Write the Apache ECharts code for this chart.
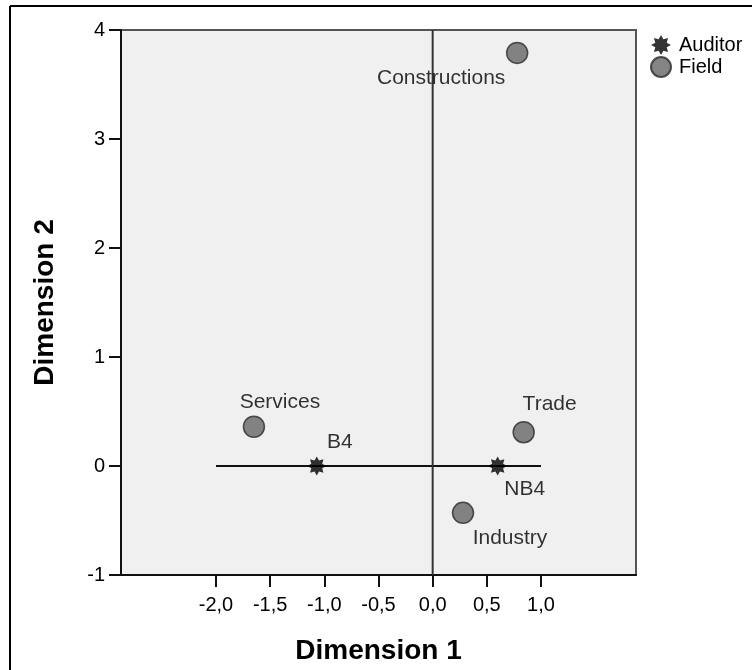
<!DOCTYPE html>
<html>
<head>
<meta charset="utf-8">
<title>Joint plot of category points</title>
<script src="https://cdn.jsdelivr.net/npm/echarts@6/dist/echarts.min.js"></script>
<style>
  html, body { margin: 0; padding: 0; background: #ffffff; }
  #chart { width: 752px; height: 670px; }
</style>
</head>
<body>
<div id="chart"></div>
<script>
// Category points: Field
const fieldNames = ['Constructions', 'Services', 'Trade', 'Industry'];
const fieldDim1 = [0.78, -1.65, 0.84, 0.28];
const fieldDim2 = [3.79, 0.36, 0.31, -0.43];

// Category points: Auditor
const auditorNames = ['B4', 'NB4'];
const auditorDim1 = [-1.07, 0.60];
const auditorDim2 = [0, 0];

// Tick values
const dim1Ticks = [-2, -1.5, -1, -0.5, 0, 0.5, 1];
const dim2Ticks = [-1, 0, 1, 2, 3, 4];

// Where each point label sits relative to its marker (pixels)
const labelOffsets = {
  'Constructions': [-76, 25],
  'Services': [26, -25],
  'Trade': [26, -28],
  'Industry': [47, 25],
  'B4': [23, -24],
  'NB4': [27, 23]
};

// Eight-pointed star marker
function starPath(points, inner) {
  const parts = [];
  for (let i = 0; i < points * 2; i++) {
    const r = i % 2 === 0 ? 50 : 50 * inner;
    const a = Math.PI * i / points - Math.PI / 2;
    const x = (50 + r * Math.cos(a)).toFixed(2);
    const y = (50 + r * Math.sin(a)).toFixed(2);
    parts.push((i === 0 ? 'M' : 'L') + x + ',' + y);
  }
  return 'path://' + parts.join(' ') + 'Z';
}
const STAR = starPath(8, 0.62);

const FONT = 'Liberation Sans, Arial, sans-serif';
const fmtComma = v => v.toFixed(1).replace('.', ',');

function pointData(names, xs, ys) {
  return names.map((n, i) => ({
    name: n,
    value: [xs[i], ys[i]],
    label: { offset: labelOffsets[n] }
  }));
}

const pointLabel = {
  show: true, position: 'inside', formatter: p => p.name,
  fontFamily: FONT, fontSize: 21, color: '#000',
  textBorderWidth: 0, textShadowBlur: 0
};

const chart = echarts.init(document.getElementById('chart'), null, { renderer: 'canvas' });

chart.setOption({
  animation: false,
  backgroundColor: '#ffffff',
  textStyle: { fontFamily: FONT },
  graphic: [
    { type: 'line', shape: { x1: 10, y1: 6, x2: 752, y2: 6 }, style: { stroke: '#000', lineWidth: 2 } },
    { type: 'line', shape: { x1: 10, y1: 6, x2: 10, y2: 670 }, style: { stroke: '#000', lineWidth: 2 } }
  ],
  grid: {
    left: 121, top: 30, width: 515, height: 546,
    show: true,
    backgroundColor: '#f0f0f0',
    borderColor: '#555555',
    borderWidth: 2
  },
  legend: {
    orient: 'vertical',
    left: 650, top: 35,
    padding: 0,
    itemWidth: 20, itemHeight: 20,
    itemGap: 1,
    textStyle: { fontFamily: FONT, fontSize: 20, color: '#000', padding: [0, 0, 0, 3] },
    data: [
      { name: 'Auditor', icon: STAR },
      { name: 'Field', icon: 'circle' }
    ]
  },
  xAxis: {
    type: 'value',
    min: -2.877, max: 1.877,
    name: 'Dimension 1',
    nameLocation: 'middle',
    nameGap: 62,
    nameTextStyle: { fontFamily: FONT, fontSize: 28, fontWeight: 'bold', color: '#000' },
    axisLine: { show: true, onZero: false, lineStyle: { color: '#111', width: 2 } },
    axisTick: { show: true, length: 12, lineStyle: { color: '#111', width: 2 }, customValues: dim1Ticks },
    axisLabel: {
      fontFamily: FONT, fontSize: 20, color: '#000', margin: 20,
      customValues: dim1Ticks,
      formatter: v => fmtComma(v)
    },
    splitLine: { show: false }
  },
  yAxis: {
    type: 'value',
    min: -1, max: 4, interval: 1,
    name: 'Dimension 2',
    nameLocation: 'middle',
    nameGap: 62,
    nameRotate: 90,
    nameTextStyle: { fontFamily: FONT, fontSize: 28, fontWeight: 'bold', color: '#000' },
    axisLine: { show: true, onZero: false, lineStyle: { color: '#111', width: 2 } },
    axisTick: { show: true, length: 12, lineStyle: { color: '#111', width: 2 } },
    axisLabel: {
      fontFamily: FONT, fontSize: 20, color: '#000', margin: 16,
      customValues: dim2Ticks,
      formatter: v => String(v)
    },
    splitLine: { show: false }
  },
  series: [
    {
      name: 'dim2-zero',
      type: 'line',
      data: [[-2, 0], [1, 0]],
      symbol: 'none',
      silent: true,
      lineStyle: { color: '#111', width: 2 },
      z: 1
    },
    {
      name: 'dim1-zero',
      type: 'line',
      data: [[0, -1], [0, 4]],
      symbol: 'none',
      silent: true,
      lineStyle: { color: '#333', width: 2 },
      z: 1
    },
    {
      name: 'Auditor',
      type: 'scatter',
      symbol: STAR,
      symbolSize: 19,
      itemStyle: { color: '#000' },
      label: pointLabel,
      data: pointData(auditorNames, auditorDim1, auditorDim2),
      z: 3
    },
    {
      name: 'Field',
      type: 'scatter',
      symbol: 'circle',
      symbolSize: 21,
      itemStyle: { color: '#676767', borderColor: '#2a2a2a', borderWidth: 1.5 },
      label: pointLabel,
      data: pointData(fieldNames, fieldDim1, fieldDim2),
      z: 3
    }
  ]
});
</script>
</body>
</html>
